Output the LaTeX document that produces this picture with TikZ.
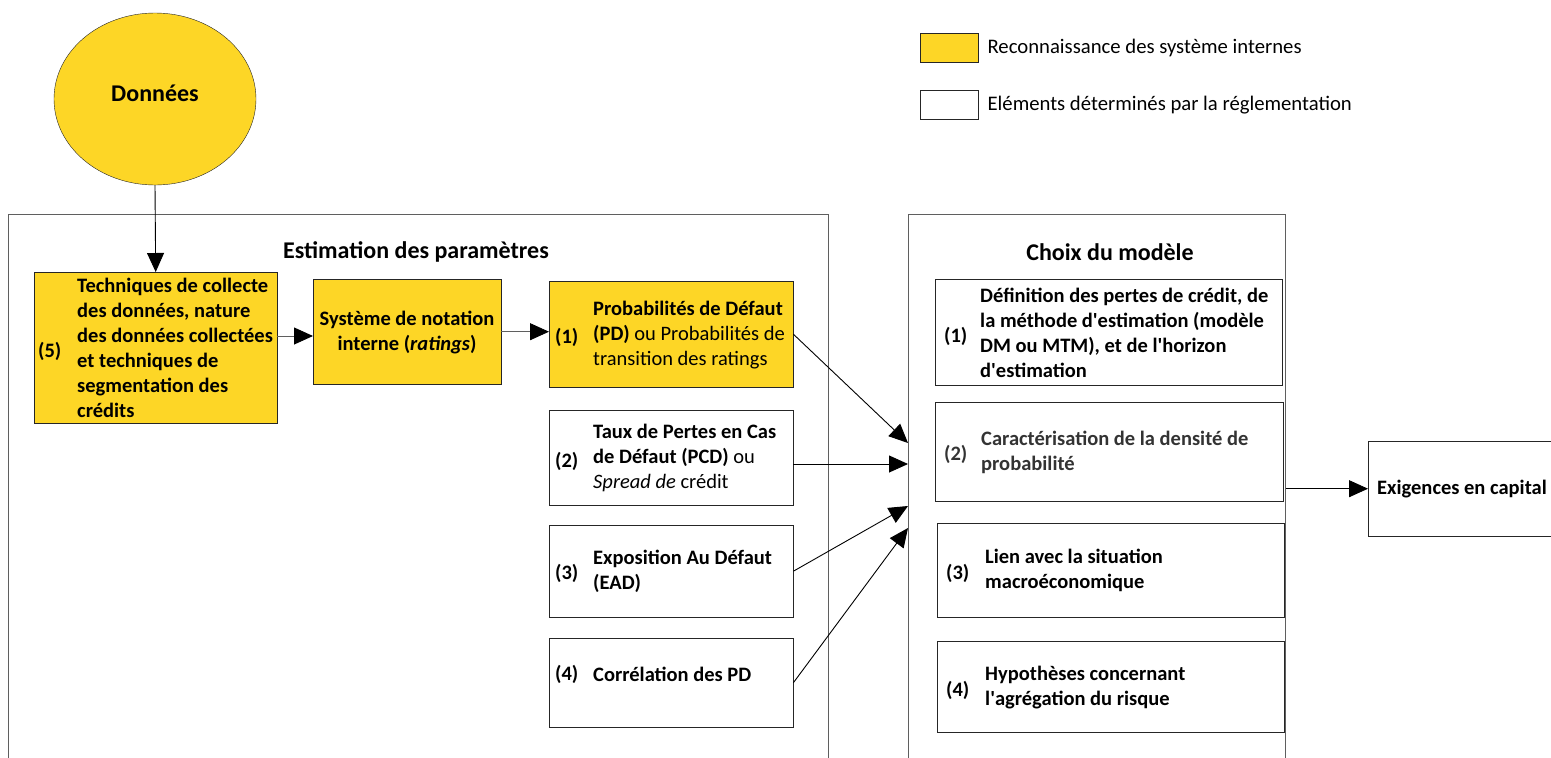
\documentclass[tikz,border=0pt]{standalone}
\usepackage{fontspec}
\setmainfont{Carlito}
\usetikzlibrary{arrows.meta,positioning,shapes.geometric}
\definecolor{jaune}{RGB}{253,214,38}
\definecolor{cadre}{RGB}{95,95,95}
\newcommand{\apos}{\textquotesingle}
\begin{document}
\begin{tikzpicture}[x=1pt, y=-1pt,
	every node/.style={font=\bfseries\fontsize{20.5}{25}\selectfont},
	ybox/.style={draw=black!85, fill=jaune, anchor=north west, inner sep=0pt},
	wbox/.style={draw=black!85, fill=white, anchor=north west, inner sep=0pt},
	cont/.style={draw=cadre, line width=0.9pt, anchor=north west, inner sep=0pt},
	num/.style={anchor=west, inner sep=0pt},
	txt/.style={anchor=west, align=left, inner sep=0pt},
	titre/.style={font=\bfseries\fontsize{24}{28}\selectfont},
	leg/.style={font=\fontsize{20.7}{24}\selectfont, anchor=west, inner sep=0pt},
	fleche/.style={-{Triangle[length=19pt,width=17pt,color=black]}, line width=0.9pt}]
	\useasboundingbox (0,0) rectangle (1551,758);
	% legende
	\node[ybox, minimum width=58pt, minimum height=29pt] (leg1) at (920,33) {};
	\node[leg, right=9pt of leg1] (legt1) {Reconnaissance des système internes};
	\node[wbox, minimum width=58pt, minimum height=29pt] (leg2) at (920,90) {};
	\node[leg, right=9pt of leg2] (legt2) {Eléments déterminés par la réglementation};
	% donnees
	\node[ellipse, draw=black!85, fill=jaune, minimum width=202pt, minimum height=172pt] (donnees) at (155,99) {};
	\node[titre] (tdonnees) at (155,93) {Données};
	% cadres
	\node[cont, minimum width=820pt, minimum height=580pt] (estim) at (8,214) {};
	\node[titre] (testim) at (416,252) {Estimation des paramètres};
	\node[cont, minimum width=377pt, minimum height=580pt] (choix) at (908,214) {};
	\node[titre] (tchoix) at (1110,252) {Choix du modèle};
	% parametres
	\node[ybox, minimum width=243pt, minimum height=151pt] (b5) at (34,272) {};
	\node[num] (n5) at (38,351) {(5)};
	\node[txt] (t5) at (77,348) {Techniques de collecte\\des données, nature\\des données collectées\\et techniques de\\segmentation des\\crédits};
	\node[ybox, minimum width=188pt, minimum height=105pt] (sys) at (313,279) {};
	\node[align=center, inner sep=0pt] (tsys) at (407,333) {Système de notation\\interne (\textit{ratings})};
	\coordinate (s5) at (313,336);
	\node[ybox, minimum width=244pt, minimum height=106pt] (b1) at (549,281) {};
	\node[num] (n1) at (555,337) {(1)};
	\node[txt] (t1) at (593,335) {Probabilités de Défaut\\(PD) \mdseries ou Probabilités de\\\mdseries transition des ratings};
	\node[wbox, minimum width=244pt, minimum height=95pt] (b2) at (549,410) {};
	\node[num] (n2) at (555,461) {(2)};
	\node[txt] (t2) at (593,458) {Taux de Pertes en Cas\\de Défaut (PCD) \mdseries ou\\\mdseries\itshape Spread de \upshape crédit};
	\node[wbox, minimum width=244pt, minimum height=92pt] (b3) at (549,525) {};
	\node[num] (n3) at (555,573) {(3)};
	\node[txt] (t3) at (593,571) {Exposition Au Défaut\\(EAD)};
	\node[wbox, minimum width=244pt, minimum height=89pt] (b4) at (549,638) {};
	\node[num] (n4) at (555,674) {(4)};
	\node[txt] (t4) at (593,674) {Corrélation des PD};
	% modele
	\node[wbox, minimum width=347pt, minimum height=106pt] (m1) at (935,279) {};
	\node[num] (nm1) at (944,336) {(1)};
	\node[txt] (tm1) at (980,333) {Définition des pertes de crédit, de\\la méthode d\apos estimation (modèle\\DM ou MTM), et de l\apos horizon\\d\apos estimation};
	\node[wbox, minimum width=348pt, minimum height=99pt, line width=1pt] (m2) at (935,402) {};
	\node[num, text=black!80] (nm2) at (944,454) {(2)};
	\node[txt, text=black!80] (tm2) at (981,452) {Caractérisation de la densité de\\probabilité};
	\node[wbox, minimum width=347pt, minimum height=94pt] (m3) at (937,523) {};
	\node[num] (nm3) at (946,573) {(3)};
	\node[txt] (tm3) at (985,570) {Lien avec la situation\\macroéconomique};
	\node[wbox, minimum width=347pt, minimum height=91pt] (m4) at (937,641) {};
	\node[num] (nm4) at (946,690) {(4)};
	\node[txt] (tm4) at (985,688) {Hypothèses concernant\\l\apos agrégation du risque};
	% sortie
	\node[wbox, minimum width=200pt, minimum height=95pt] (exig) at (1368,441) {};
	\node[anchor=west, inner sep=0pt] (texig) at (1377,489) {Exigences en capital};
	% points d'arrivee
	\coordinate (e1) at (908,443);
	\coordinate (e2) at (908,464);
	\coordinate (e3) at (908,506);
	\coordinate (e4) at (908,528);
	% fleches
	\draw[fleche] (donnees.south) -- (b5.north);
	\draw[fleche, draw=cadre] (b5.east |- s5) -- (s5);
	\draw[fleche, draw=cadre] (sys.east) -- (sys.east -| b1.west);
	\draw[fleche] (b1.east) -- (e1);
	\draw[fleche] (b2.east |- e2) -- (e2);
	\draw[fleche] (b3.east) -- (e3);
	\draw[fleche] (b4.east) -- (e4);
	\draw[fleche] (choix.east |- exig.west) -- (exig.west);
\end{tikzpicture}
\end{document}
